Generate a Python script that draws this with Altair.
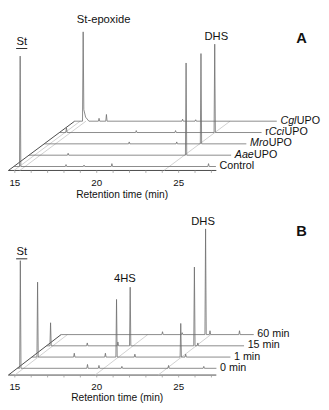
import altair as alt
import pandas as pd

# ---------------- shared axis values ----------------
X_MIN, X_MAX = 14.583, 33.69          # retention-time domain of the drawing area (min)
AXIS_START, AXIS_END = 14.61, 27.3    # front time axis
TICKS = [15, 16, 17, 18, 19, 20, 21, 22, 23, 24, 25, 26, 27]
TICK_LABELS = [15, 20, 25]
AXIS_TITLE = "Retention time (min)"

# ---------------- panel A ----------------
A_PREFIX = ["Control", "", "", "r", ""]
A_ITALIC = ["", "Aae", "Mro", "Cci", "Cgl"]
A_SUFFIX = ["", "UPO", "UPO", "UPO", "UPO"]
A_DEPTH = [0.35, 1.35, 2.35, 3.35, 4.35]
A_END = [26.95, 26.95, 26.95, 26.95, 26.95]
A_PK_TRACE = [0, 0, 0, 0, 0, 1, 1, 2, 2, 2, 3, 3, 3, 3, 4, 4, 4, 4, 4]
A_PK_TIME = [15.0, 17.8, 18.9, 20.6, 26.5, 17.0, 24.2, 19.8, 22.7, 24.18,
             15.04, 19.3, 21.7, 24.09, 15.13, 16.1, 16.55, 21.2, 22.0]
A_PK_HEIGHT = [115, 2, 1.5, 3, 3, 2, 96, 2, 2, 94, 5, 2, 2, 92, 93, 3, 7, 2, 1.5]
A_PK_TAIL = [0, 0, 0, 0, 0, 0, 0, 0, 0, 0, 0, 0, 0, 0, 12, 0, 0, 0, 0]
A_GUIDES = [14.95, 15.3, 24.1]
A_ANNOT = ["St-epoxide", "St", "DHS"]
A_ANNOT_T = [20.42, 15.42, 27.3]
A_ANNOT_S = [157, 134, 139]
A_UNDERLINED = [False, True, False]
A_LETTER = "A"
A_LETTER_POS = [32.5, 138]

# ---------------- panel B ----------------
B_PREFIX = ["0 min", "1 min", "15 min", "60 min"]
B_ITALIC = ["", "", "", ""]
B_SUFFIX = ["", "", "", ""]
B_DEPTH = [0.6, 1.6, 2.6, 3.6]
B_END = [26.77, 26.73, 26.67, 26.37]
B_PK_TRACE = [0, 0, 0, 0, 0, 0,
              1, 1, 1, 1, 1, 1, 1,
              2, 2, 2, 2, 2, 2,
              3, 3, 3, 3, 3]
B_PK_TIME = [14.80, 18.9, 19.6, 21.0, 23.85, 26.0,
             14.96, 17.2, 19.1, 19.78, 20.9, 23.7, 24.0,
             14.86, 17.1, 18.97, 19.72, 23.64, 23.85,
             20.8, 22.0, 23.43, 23.7, 25.5]
B_PK_HEIGHT = [112, 4, 3, 2, 3, 2,
               78, 4, 4, 60, 3, 35, 3,
               24, 3, 4, 61, 82, 3,
               3, 2, 110, 4, 4]
B_PK_TAIL = [0] * len(B_PK_TIME)
B_GUIDES = [15.0, 19.9, 23.75]
B_ANNOT = ["DHS", "St", "4HS"]
B_ANNOT_T = [26.49, 15.42, 21.72]
B_ANNOT_S = [159.5, 128, 100]
B_UNDERLINED = [False, True, False]
B_LETTER = "B"
B_LETTER_POS = [32.5, 150]

# ---------------- styling ----------------
W = 321
FONT = "Liberation Sans, Arial, sans-serif"
LABEL_SIZE = 11
ANNOT_SIZE = 11.5
PX_PER_MIN = W / (X_MAX - X_MIN)
HALF_W = 0.04
GAP_MIN = 0.22
SLANT_PX = 0.3
CHAR_W = {"r": 333, "A": 667, "a": 556, "e": 556, "M": 833, "o": 556,
          "C": 722, "c": 500, "i": 222, "g": 556, "l": 222}


def text_w_min(s, size=LABEL_SIZE):
    px = sum(CHAR_W.get(ch, 556) for ch in s) * size / 1000
    return px / PX_PER_MIN


def panel(prefix, italic, suffix, depths, ends, pk_trace, pk_time, pk_h, pk_tail,
          guides, annot, annot_t, annot_s, underlined, letter, letter_pos,
          dx, dy, ydom, height, tick_s, title_t, title_s):
    X = alt.X("px:Q", scale=alt.Scale(domain=[X_MIN, X_MAX], nice=False, zero=False), axis=None)
    Y = alt.Y("py:Q", scale=alt.Scale(domain=ydom, nice=False, zero=False), axis=None)
    X2 = alt.X2("px2:Q")
    Y2 = alt.Y2("py2:Q")

    # chromatogram polylines
    rows = []
    for i in range(len(depths)):
        pk = sorted((pk_time[j], pk_h[j], pk_tail[j]) for j in range(len(pk_trace)) if pk_trace[j] == i)
        pts = [(AXIS_START, 0.0)]
        for t, h, tail in pk:
            pts += [(t - HALF_W, 0.0), (t, h)]
            if tail:
                pts += [(t + HALF_W, tail), (t + 0.15, tail * 0.35), (t + 0.35, 0.0)]
            else:
                pts += [(t + HALF_W, 0.0)]
        pts.append((ends[i], 0.0))
        for k, (t, s) in enumerate(pts):
            rows.append({"trace": i, "k": k, "t": t, "s": s, "d": depths[i]})
    traces = alt.Chart(pd.DataFrame(rows)).transform_calculate(
        px=f"datum.t + datum.d * {dx}", py=f"datum.s + datum.d * {dy}"
    ).mark_line(color="#6c6c6c", strokeWidth=0.8).encode(
        x=X, y=Y, detail="trace:N", order="k:Q")

    # frame segments: front axis, left depth edge (black), guide lines (grey)
    dmax = max(depths)
    seg_rows = [{"t0": AXIS_START, "d0": 0, "t1": AXIS_END, "d1": 0, "c": "k"},
                {"t0": AXIS_START, "d0": 0, "t1": AXIS_START, "d1": dmax, "c": "k"}]
    seg_rows += [{"t0": g, "d0": 0, "t1": g, "d1": dmax, "c": "g"} for g in guides]
    segs = alt.Chart(pd.DataFrame(seg_rows)).transform_calculate(
        px=f"datum.t0 + datum.d0 * {dx}", py=f"datum.d0 * {dy}",
        px2=f"datum.t1 + datum.d1 * {dx}", py2=f"datum.d1 * {dy}"
    ).mark_rule(strokeWidth=0.8).encode(
        x=X, y=Y, x2=X2, y2=Y2,
        color=alt.Color("c:N", scale=alt.Scale(domain=["k", "g"], range=["#1a1a1a", "#c4c4c4"]), legend=None))

    ticks = alt.Chart(pd.DataFrame({"t": TICKS})).transform_calculate(
        px="datum.t", py="0", py2="-2.5"
    ).mark_rule(color="#999999", strokeWidth=0.8).encode(x=X, y=Y, y2=Y2)

    tick_labels = alt.Chart(pd.DataFrame({"t": TICK_LABELS})).transform_calculate(
        px="datum.t", py=f"{tick_s}", lab="datum.t + ''"
    ).mark_text(font=FONT, fontSize=10, color="#111111", baseline="middle").encode(
        x=X, y=Y, text="lab:N")

    title = alt.Chart(pd.DataFrame({"t": [title_t], "lab": [AXIS_TITLE]})).transform_calculate(
        px="datum.t", py=f"{title_s}"
    ).mark_text(font=FONT, fontSize=10.5, color="#111111", baseline="middle").encode(
        x=X, y=Y, text="lab:N")

    # trace labels (normal + italic parts)
    slant = SLANT_PX / PX_PER_MIN
    lab_rows = []
    for i in range(len(depths)):
        start = ends[i] + depths[i] * dx + GAP_MIN
        if prefix[i]:
            lab_rows.append({"txt": prefix[i], "px": start, "d": depths[i], "it": 0})
        p_w = text_w_min(prefix[i])
        if italic[i]:
            lab_rows.append({"txt": italic[i], "px": start + p_w, "d": depths[i], "it": 1})
        if suffix[i]:
            lab_rows.append({"txt": suffix[i], "px": start + p_w + text_w_min(italic[i]) + slant,
                             "d": depths[i], "it": 0})
    lab_df = pd.DataFrame(lab_rows)
    lab_base = alt.Chart(lab_df).transform_calculate(py=f"datum.d * {dy} + 0.5")
    lab_norm = lab_base.transform_filter("datum.it == 0").mark_text(
        font=FONT, fontSize=LABEL_SIZE, align="left", baseline="middle", color="#111111").encode(
        x=X, y=Y, text="txt:N")
    lab_it = lab_base.transform_filter("datum.it == 1").mark_text(
        font=FONT, fontSize=LABEL_SIZE, fontStyle="italic", align="left", baseline="middle",
        color="#111111").encode(x=X, y=Y, text="txt:N")

    # peak annotations
    ann_df = pd.DataFrame({"lab": annot, "px": annot_t, "py": annot_s, "u": underlined})
    ann = alt.Chart(ann_df).mark_text(font=FONT, fontSize=ANNOT_SIZE, baseline="middle",
                                      color="#111111").encode(x=X, y=Y, text="lab:N")
    und = alt.Chart(ann_df).transform_filter("datum.u").transform_calculate(
        px0="datum.px - 0.34", py0="datum.py - 7", px2="datum.px + 0.34", py2="datum.py - 7"
    ).mark_rule(color="#111111", strokeWidth=0.9).encode(
        x=alt.X("px0:Q", scale=alt.Scale(domain=[X_MIN, X_MAX], nice=False, zero=False), axis=None),
        y=alt.Y("py0:Q", scale=alt.Scale(domain=ydom, nice=False, zero=False), axis=None),
        x2=X2, y2=Y2)

    let = alt.Chart(pd.DataFrame({"lab": [letter], "px": [letter_pos[0]], "py": [letter_pos[1]]})).mark_text(
        font=FONT, fontSize=15, fontWeight="bold", baseline="middle", color="#111111"
    ).encode(x=X, y=Y, text="lab:N")

    return alt.layer(segs, ticks, traces, tick_labels, title, lab_norm, lab_it, ann, und, let).properties(
        width=W, height=height)


panel_a = panel(A_PREFIX, A_ITALIC, A_SUFFIX, A_DEPTH, A_END, A_PK_TRACE, A_PK_TIME, A_PK_HEIGHT,
                A_PK_TAIL, A_GUIDES, A_ANNOT, A_ANNOT_T, A_ANNOT_S, A_UNDERLINED, A_LETTER, A_LETTER_POS,
                dx=0.929, dy=11.8, ydom=[-37.06, 163.96], height=198,
                tick_s=-13, title_t=21.55, title_s=-26)
panel_b = panel(B_PREFIX, B_ITALIC, B_SUFFIX, B_DEPTH, B_END, B_PK_TRACE, B_PK_TIME, B_PK_HEIGHT,
                B_PK_TAIL, B_GUIDES, B_ANNOT, B_ANNOT_T, B_ANNOT_S, B_UNDERLINED, B_LETTER, B_LETTER_POS,
                dx=0.893, dy=11.7, ydom=[-31.17, 175.9], height=204,
                tick_s=-12, title_t=21.25, title_s=-24)

chart = alt.vconcat(panel_a, panel_b, spacing=0).properties(
    padding=0, background="white"
).configure_view(stroke=None)

chart.save("out.html", embed_options={"renderer": "svg", "actions": False})
